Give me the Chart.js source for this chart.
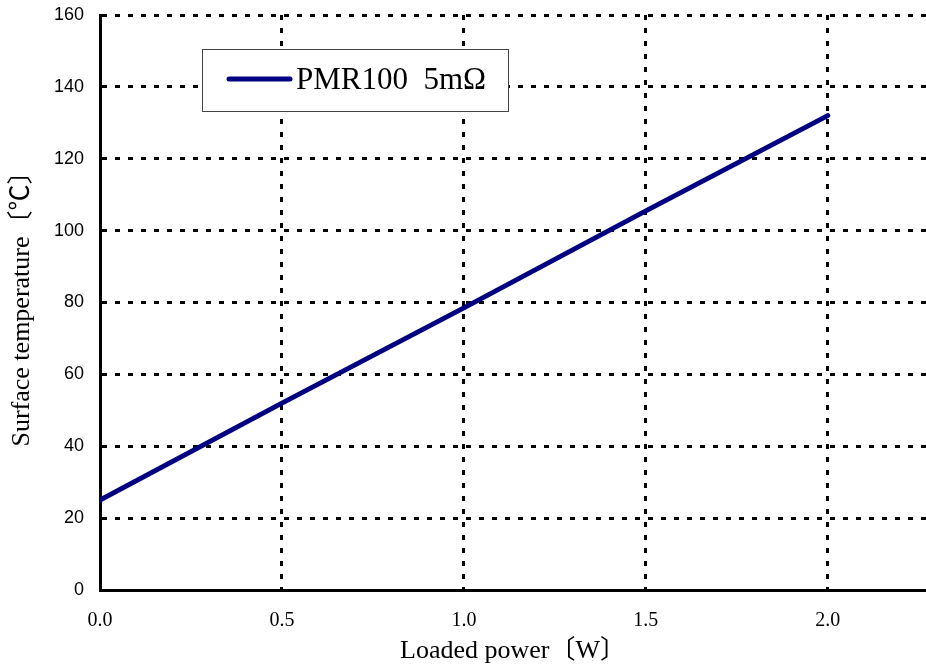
<!DOCTYPE html>
<html>
<head>
<meta charset="utf-8">
<script src="https://cdn.jsdelivr.net/npm/chart.js@4"></script>
<style>
  html, body { margin: 0; padding: 0; background: #fff; }
  #wrap { width: 926px; height: 670px; }
</style>
</head>
<body>
<div id="wrap"><canvas id="tempChart" width="926" height="670"></canvas></div>
<script>
// dados
const powerW = [0.0, 0.5, 1.0, 1.5, 2.0];
const tempC = [25, 52, 78.5, 105.5, 132];
const seriesLabel = 'PMR100  5mΩ';
const xTitle = 'Loaded power〔W〕';
const yTitle = 'Surface temperature〔℃〕';

const serif = '"Liberation Serif", "Times New Roman", "Noto Sans CJK JP", serif';
const sans = '"Liberation Sans", Arial, sans-serif';
const lineColor = '#000080';

// legenda desenhada dentro da área do gráfico
const boxLegend = {
  id: 'boxLegend',
  afterDraw(chart) {
    const ctx = chart.ctx;
    const ds = chart.data.datasets[0];
    const x = 202, y = 49, w = 306, h = 62;
    ctx.save();
    ctx.fillStyle = '#fff';
    ctx.fillRect(x, y, w, h);
    ctx.strokeStyle = '#444';
    ctx.lineWidth = 1;
    ctx.strokeRect(x + 0.5, y + 0.5, w, h);
    ctx.strokeStyle = ds.borderColor;
    ctx.lineWidth = 5;
    ctx.lineCap = 'round';
    ctx.beginPath();
    ctx.moveTo(x + 27, y + 30);
    ctx.lineTo(x + 88, y + 30);
    ctx.stroke();
    ctx.fillStyle = '#000';
    ctx.font = '31px ' + serif;
    ctx.textBaseline = 'middle';
    ctx.fillText(ds.label, x + 94, y + 32);
    ctx.restore();
  }
};

new Chart(document.getElementById('tempChart'), {
  type: 'line',
  data: {
    datasets: [{
      label: seriesLabel,
      data: powerW.map((p, i) => ({ x: p, y: tempC[i] })),
      borderColor: lineColor,
      borderWidth: 5,
      borderCapStyle: 'round',
      pointRadius: 0,
      tension: 0,
      fill: false
    }]
  },
  options: {
    responsive: false,
    animation: false,
    layout: { padding: 0 },
    plugins: { legend: { display: false }, tooltip: { enabled: false } },
    scales: {
      x: {
        type: 'linear',
        min: 0,
        max: 2.27,
        grid: { color: '#000', lineWidth: 3, drawTicks: false },
        border: { color: '#000', width: 3, dash: [5, 8] },
        ticks: {
          stepSize: 0.5,
          includeBounds: false,
          padding: 19,
          color: '#000',
          font: { family: serif, size: 20 },
          callback: v => Number(v).toFixed(1)
        },
        title: {
          display: true,
          text: xTitle,
          color: '#000',
          font: { family: serif, size: 26 },
          padding: { top: 0, bottom: 3 }
        },
        afterFit: s => { s.height = 80; }
      },
      y: {
        min: 0,
        max: 160,
        grid: { color: '#000', lineWidth: 3, drawTicks: false },
        border: { color: '#000', width: 3, dash: [5, 8] },
        ticks: {
          stepSize: 20,
          padding: 16,
          color: '#000',
          font: { family: sans, size: 18 }
        },
        title: {
          display: true,
          text: yTitle,
          color: '#000',
          font: { family: serif, size: 26 },
          padding: { top: 7, bottom: 0 }
        },
        afterFit: s => { s.width = 100; s.paddingTop = 15; }
      }
    }
  },
  plugins: [boxLegend]
});
</script>
</body>
</html>
